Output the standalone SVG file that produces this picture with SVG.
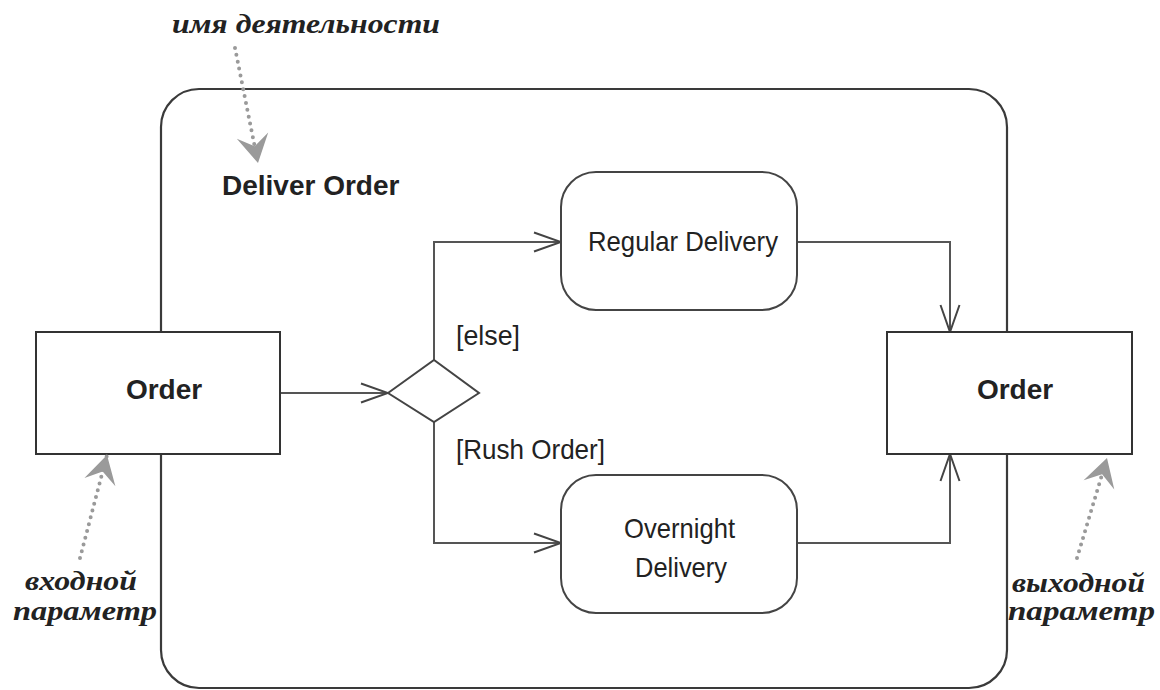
<svg xmlns="http://www.w3.org/2000/svg" width="1160" height="690" viewBox="0 0 1160 690">
<defs>
<style>
.frame{fill:none;stroke:#3a3a3a;stroke-width:2.2}
.box{fill:#fff;stroke:#333;stroke-width:2}
.act{fill:#fff;stroke:#444;stroke-width:2}
.flow{fill:none;stroke:#555;stroke-width:2}
.lbl{font-family:"Liberation Sans",Arial,sans-serif;fill:#222}
.bold{font-weight:bold}
.note{font-family:"Liberation Serif","DejaVu Serif",serif;font-style:italic;font-weight:bold;fill:#222;font-size:28px}
.dots{fill:none;stroke:#9a9a9a;stroke-width:4;stroke-linecap:round;stroke-dasharray:0 7}
</style>
<marker id="open" viewBox="-30 -12 32 24" refX="0" refY="0" markerWidth="32" markerHeight="24" markerUnits="userSpaceOnUse" orient="auto">
<path d="M-27,-9.5 L0,0 L-27,9.5" fill="none" stroke="#444" stroke-width="2"/>
</marker>
<marker id="gray" viewBox="-30 -18 32 36" refX="0" refY="0" markerWidth="32" markerHeight="36" markerUnits="userSpaceOnUse" orient="auto">
<path d="M0,0 L-28,-16 L-17,0 L-28,16 Z" fill="#9a9a9a"/>
</marker>
</defs>

<g id="activity">
<rect class="frame" x="161" y="89" width="846" height="599" rx="38" ry="38"/>
<text class="lbl bold" x="222" y="195" font-size="28">Deliver Order</text>
</g>

<g id="connectors">
<line class="flow" x1="280" y1="393" x2="388" y2="393" marker-end="url(#open)"/>
<polyline class="flow" points="434,360 434,242 561,242" marker-end="url(#open)"/>
<polyline class="flow" points="434,422 434,543 561,543" marker-end="url(#open)"/>
<polyline class="flow" points="797,242 950,242 950,332" marker-end="url(#open)"/>
<polyline class="flow" points="797,543 950,543 950,454" marker-end="url(#open)"/>
<text class="lbl" x="456" y="345" font-size="28" textLength="64" lengthAdjust="spacingAndGlyphs">[else]</text>
<text class="lbl" x="456" y="459" font-size="28" textLength="149" lengthAdjust="spacingAndGlyphs">[Rush Order]</text>
</g>

<g id="input-order">
<rect class="box" x="36" y="332" width="244" height="122"/>
<text class="lbl bold" x="164" y="399" font-size="28" text-anchor="middle">Order</text>
</g>

<g id="decision">
<polygon class="act" points="388,393 434,360 479,393 434,422"/>
</g>

<g id="regular-delivery">
<rect class="act" x="561" y="172" width="236" height="138" rx="35" ry="35"/>
<text class="lbl" x="588" y="251" font-size="28" textLength="190" lengthAdjust="spacingAndGlyphs">Regular Delivery</text>
</g>

<g id="overnight-delivery">
<rect class="act" x="561" y="475" width="236" height="138" rx="35" ry="35"/>
<text class="lbl" x="624" y="538" font-size="28" textLength="111" lengthAdjust="spacingAndGlyphs">Overnight</text>
<text class="lbl" x="635" y="577" font-size="28" textLength="92" lengthAdjust="spacingAndGlyphs">Delivery</text>
</g>

<g id="output-order">
<rect class="box" x="887" y="332" width="245" height="122"/>
<text class="lbl bold" x="1015" y="399" font-size="28" text-anchor="middle">Order</text>
</g>

<g id="annotations">
<text class="note" x="172" y="33" textLength="268" lengthAdjust="spacingAndGlyphs">имя деятельности</text>
<line class="dots" x1="235" y1="48" x2="258" y2="163" marker-end="url(#gray)"/>
<text class="note" x="25" y="590" textLength="112" lengthAdjust="spacingAndGlyphs">входной</text>
<text class="note" x="13" y="620" textLength="144" lengthAdjust="spacingAndGlyphs">параметр</text>
<line class="dots" x1="80" y1="558" x2="107" y2="455" marker-end="url(#gray)"/>
<text class="note" x="1012" y="592" textLength="133" lengthAdjust="spacingAndGlyphs">выходной</text>
<text class="note" x="1008" y="620" textLength="147" lengthAdjust="spacingAndGlyphs">параметр</text>
<line class="dots" x1="1077" y1="558" x2="1107" y2="458" marker-end="url(#gray)"/>
</g>
</svg>
